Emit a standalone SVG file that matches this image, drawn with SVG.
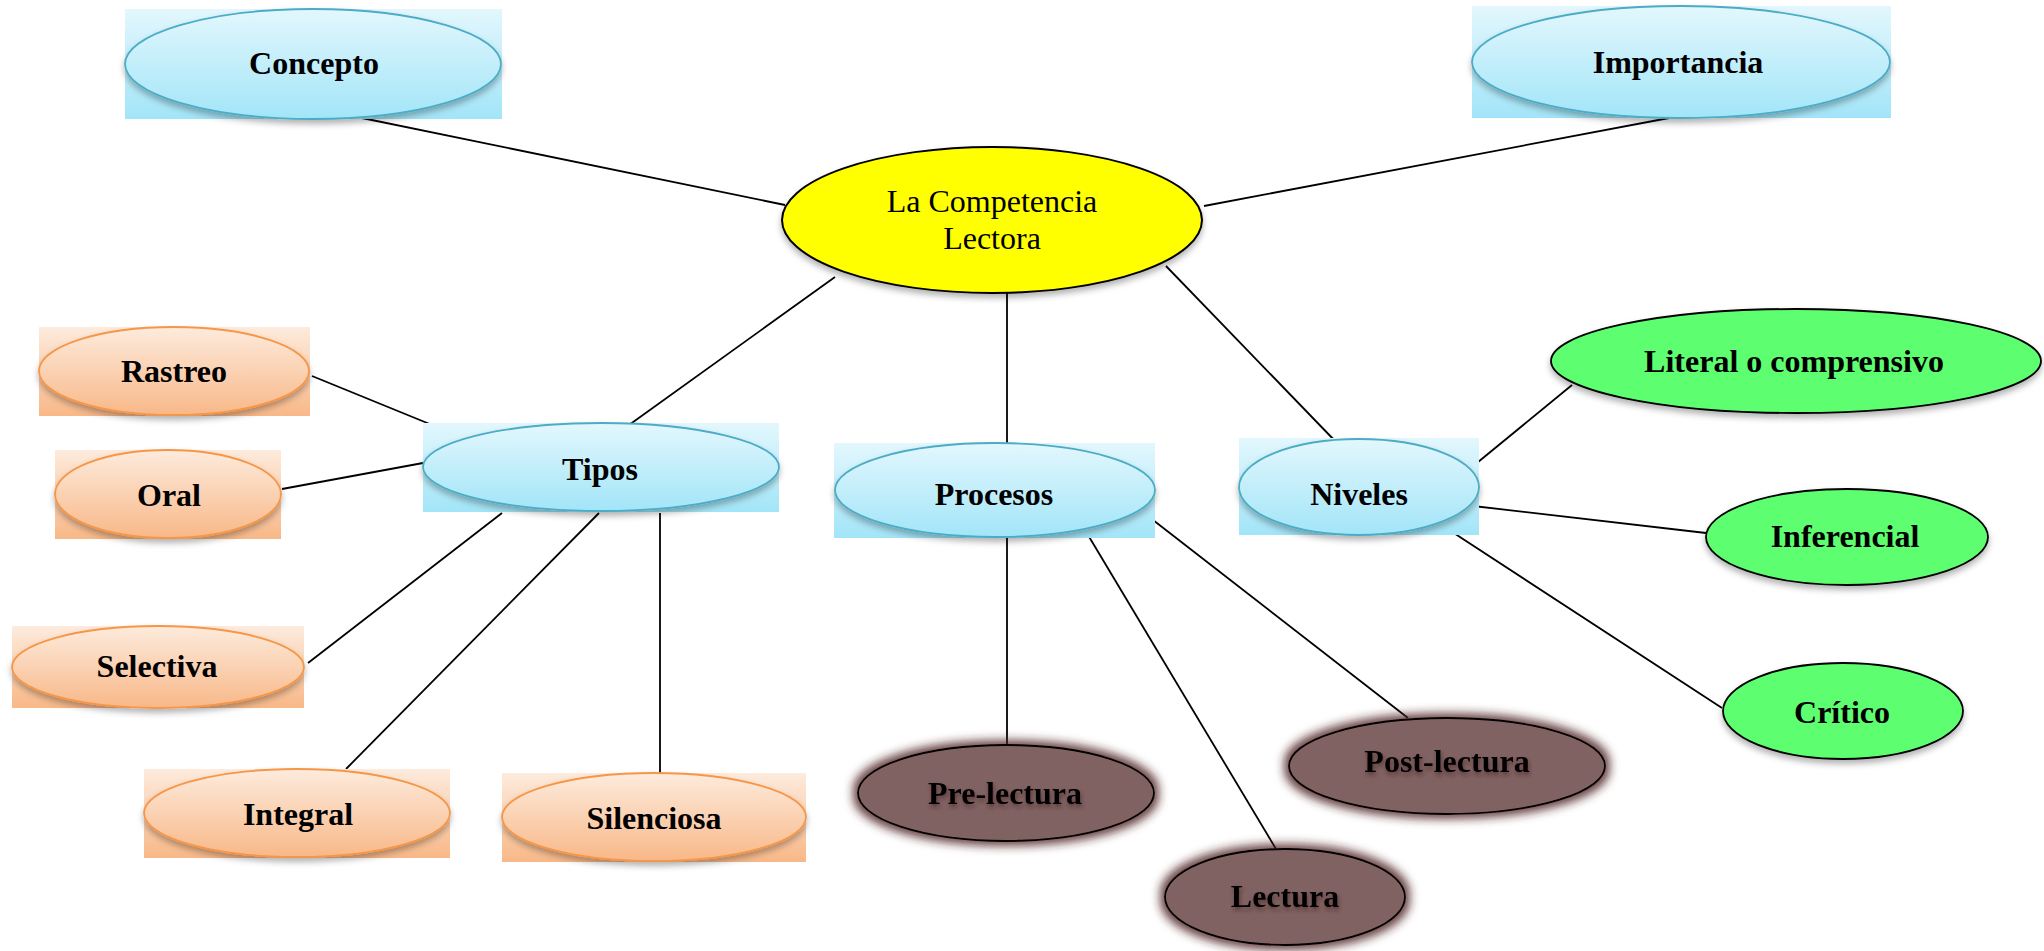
<svg xmlns="http://www.w3.org/2000/svg" width="2044" height="951" viewBox="0 0 2044 951">
<style>
.lbl{font-family:"Liberation Serif","Times New Roman",serif;font-size:32px;font-weight:bold;fill:#000;text-anchor:middle}
.ctr{font-family:"Liberation Serif","Times New Roman",serif;font-size:32px;fill:#000;text-anchor:middle}
.con line{stroke:#000;stroke-width:1.8}
.bbox{fill:url(#gBlue)}
.bell{fill:url(#gBlue);stroke:#4BACC6;stroke-width:1.8;filter:url(#sh)}
.obox{fill:url(#gOr)}
.oell{fill:url(#gOr);stroke:#F79646;stroke-width:1.8;filter:url(#sh)}
.gell{fill:#5DFF6F;stroke:#000;stroke-width:1.8;filter:url(#sh)}
.rell{fill:#816262;stroke:#000;stroke-width:1.8;filter:url(#glow)}
.yell{fill:#FFFF00;stroke:#000;stroke-width:2;filter:url(#sh)}
.rlbl{filter:url(#tsh)}
</style>
<defs>
<linearGradient id="gBlue" x1="0" y1="0" x2="0" y2="1">
<stop offset="0" stop-color="#E3F7FD"/><stop offset="1" stop-color="#A2E5F8"/>
</linearGradient>
<linearGradient id="gOr" x1="0" y1="0" x2="0" y2="1">
<stop offset="0" stop-color="#FDEBDD"/><stop offset="1" stop-color="#F8B888"/>
</linearGradient>
<filter id="sh" x="-10%" y="-20%" width="120%" height="150%">
<feDropShadow dx="0" dy="4" stdDeviation="3" flood-color="#000" flood-opacity="0.3"/>
</filter>
<filter id="glow" x="-15%" y="-30%" width="130%" height="160%">
<feMorphology in="SourceAlpha" operator="dilate" radius="4" result="d"/>
<feGaussianBlur in="d" stdDeviation="5" result="b"/>
<feFlood flood-color="#4E2222" flood-opacity="0.85"/>
<feComposite in2="b" operator="in" result="g"/>
<feMerge><feMergeNode in="g"/><feMergeNode in="SourceGraphic"/></feMerge>
</filter>
<filter id="tsh" x="-10%" y="-30%" width="120%" height="180%">
<feDropShadow dx="1" dy="3" stdDeviation="2" flood-color="#3A1A1A" flood-opacity="0.6"/>
</filter>
</defs>
<rect width="2044" height="951" fill="#fff"/>
<g id="connectors" class="con">
<line x1="362" y1="118" x2="785" y2="205"/>
<line x1="1204" y1="206" x2="1669" y2="118"/>
<line x1="835" y1="277" x2="629" y2="425"/>
<line x1="1007" y1="293" x2="1007" y2="443"/>
<line x1="1166" y1="266" x2="1337" y2="443"/>
<line x1="312" y1="376" x2="464" y2="438"/>
<line x1="282" y1="489" x2="423" y2="463"/>
<line x1="502" y1="513" x2="308" y2="663"/>
<line x1="599" y1="513" x2="346" y2="769"/>
<line x1="660" y1="513" x2="660" y2="773"/>
<line x1="1007" y1="538" x2="1007" y2="746"/>
<line x1="1088" y1="535" x2="1276" y2="849"/>
<line x1="1144" y1="513" x2="1408" y2="718"/>
<line x1="1472" y1="467" x2="1572" y2="385"/>
<line x1="1473" y1="506" x2="1706" y2="533"/>
<line x1="1440" y1="524" x2="1722" y2="708"/>
</g>
<g id="center">
<ellipse class="yell" cx="992" cy="220" rx="210" ry="73"/>
<text class="ctr" x="992" y="212">La Competencia</text>
<text class="ctr" x="992" y="249">Lectora</text>
</g>
<g id="concepto">
<rect class="bbox" x="125" y="9" width="377" height="110"/>
<ellipse class="bell" cx="313" cy="64" rx="188" ry="55"/>
<text class="lbl" x="314" y="74">Concepto</text>
</g>
<g id="importancia">
<rect class="bbox" x="1472" y="6" width="419" height="112"/>
<ellipse class="bell" cx="1681" cy="62" rx="209" ry="56"/>
<text class="lbl" x="1678" y="73">Importancia</text>
</g>
<g id="tipos">
<rect class="bbox" x="423" y="423" width="356" height="89"/>
<ellipse class="bell" cx="601" cy="467" rx="178" ry="44"/>
<text class="lbl" x="600" y="480">Tipos</text>
</g>
<g id="procesos">
<rect class="bbox" x="834" y="443" width="321" height="95"/>
<ellipse class="bell" cx="995" cy="490" rx="160" ry="47"/>
<text class="lbl" x="994" y="505">Procesos</text>
</g>
<g id="niveles">
<rect class="bbox" x="1239" y="438" width="240" height="97"/>
<ellipse class="bell" cx="1359" cy="487" rx="120" ry="48"/>
<text class="lbl" x="1359" y="505">Niveles</text>
</g>
<g id="rastreo">
<rect class="obox" x="39" y="327" width="271" height="89"/>
<ellipse class="oell" cx="174" cy="371" rx="135" ry="44"/>
<text class="lbl" x="174" y="382">Rastreo</text>
</g>
<g id="oral">
<rect class="obox" x="55" y="450" width="226" height="89"/>
<ellipse class="oell" cx="168" cy="494" rx="113" ry="44"/>
<text class="lbl" x="169" y="506">Oral</text>
</g>
<g id="selectiva">
<rect class="obox" x="12" y="626" width="292" height="82"/>
<ellipse class="oell" cx="158" cy="667" rx="146" ry="41"/>
<text class="lbl" x="157" y="677">Selectiva</text>
</g>
<g id="integral">
<rect class="obox" x="144" y="769" width="306" height="89"/>
<ellipse class="oell" cx="297" cy="813" rx="153" ry="44"/>
<text class="lbl" x="298" y="825">Integral</text>
</g>
<g id="silenciosa">
<rect class="obox" x="502" y="773" width="304" height="89"/>
<ellipse class="oell" cx="654" cy="817" rx="152" ry="44"/>
<text class="lbl" x="654" y="829">Silenciosa</text>
</g>
<g id="prelectura">
<ellipse class="rell" cx="1006" cy="793" rx="148" ry="48"/>
<text class="lbl rlbl" x="1005" y="804">Pre-lectura</text>
</g>
<g id="lectura">
<ellipse class="rell" cx="1285" cy="897" rx="120" ry="48"/>
<text class="lbl rlbl" x="1285" y="907">Lectura</text>
</g>
<g id="postlectura">
<ellipse class="rell" cx="1447" cy="766" rx="158" ry="48"/>
<text class="lbl rlbl" x="1447" y="772">Post-lectura</text>
</g>
<g id="literal">
<ellipse class="gell" cx="1796" cy="361" rx="245" ry="52"/>
<text class="lbl" x="1794" y="372">Literal o comprensivo</text>
</g>
<g id="inferencial">
<ellipse class="gell" cx="1847" cy="537" rx="141" ry="48"/>
<text class="lbl" x="1845" y="547">Inferencial</text>
</g>
<g id="critico">
<ellipse class="gell" cx="1843" cy="711" rx="120" ry="48"/>
<text class="lbl" x="1842" y="723">Crítico</text>
</g>
</svg>
